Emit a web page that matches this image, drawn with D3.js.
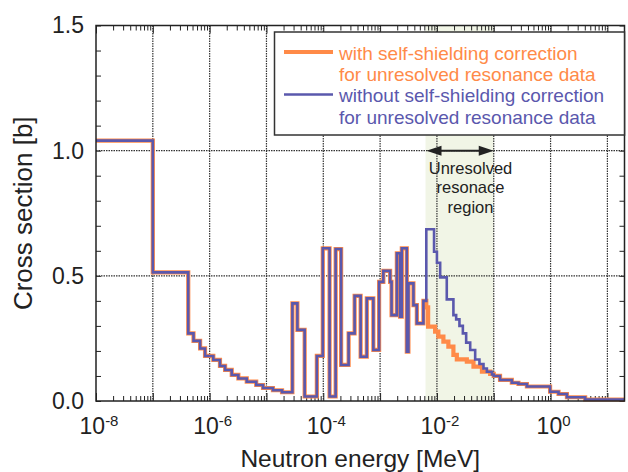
<!DOCTYPE html>
<html>
<head>
<meta charset="utf-8">
<script src="https://cdn.jsdelivr.net/npm/d3@7"></script>
<style>
  body { margin: 0; background: #fff; }
  svg { display: block; font-family: "Liberation Sans", Arial, Helvetica, sans-serif; }
</style>
</head>
<body>
<div id="chart"></div>
<script>
// Group boundaries [MeV] and cross sections [b], shared part below the unresolved region
const lowEdges = [1e-8, 1e-7, 4.2e-7, 5.2e-7, 6.8e-7, 8.3e-7, 1.16e-6, 1.52e-6, 1.87e-6, 2.45e-6,
  3.2e-6, 4.5e-6, 6.6e-6, 8.7e-6, 1.3e-5, 1.88e-5, 2.86e-5, 3.5e-5, 4.7e-5, 7.7e-5,
  9.8e-5, 1.29e-4, 1.65e-4, 2.06e-4, 2.79e-4, 3.56e-4, 4.54e-4, 5.83e-4, 7.6e-4, 9.6e-4,
  1.14e-3, 1.5e-3, 1.59e-3, 1.97e-3, 2.25e-3, 2.41e-3, 2.95e-3, 3.15e-3, 3.86e-3, 4.43e-3,
  5.78e-3, 6.5e-3];
const lowValues = [1.04, 0.514, 0.27, 0.24, 0.21, 0.18, 0.164, 0.14, 0.124, 0.104,
  0.09, 0.077, 0.064, 0.052, 0.043, 0.035, 0.39, 0.284, 0.018, 0.18,
  0.61, 0.018, 0.607, 0.144, 0.27, 0.42, 0.177, 0.41, 0.204, 0.476,
  0.52, 0.476, 0.343, 0.59, 0.337, 0.61, 0.197, 0.47, 0.383, 0.31, 0.40];

// Unresolved resonance region, without self-shielding (blue)
const urrBlueEdges = [6.5e-3, 8.9e-3, 1e-2, 1.14e-2, 1.49e-2, 1.95e-2, 2.18e-2, 2.49e-2, 2.86e-2,
  3.27e-2, 3.85e-2, 4.71e-2, 5.6e-2, 6.6e-2, 7.57e-2, 9.3e-2, 0.1];
const urrBlueValues = [0.686, 0.596, 0.552, 0.494, 0.406, 0.343, 0.326, 0.30, 0.27,
  0.233, 0.204, 0.166, 0.148, 0.13, 0.117, 0.106];

// Unresolved resonance region, with self-shielding (orange)
const urrOrangeEdges = [6.5e-3, 7.0e-3, 9.3e-3, 1.06e-2, 1.3e-2, 1.59e-2, 1.95e-2, 2.24e-2,
  3.36e-2, 4.4e-2, 6.2e-2, 8.65e-2, 0.1];
const urrOrangeValues = [0.374, 0.297, 0.277, 0.257, 0.237, 0.217, 0.184, 0.166,
  0.157, 0.137, 0.117, 0.108];

// Shared part above the unresolved region
const highEdges = [0.1, 0.129, 0.208, 0.272, 0.383, 0.98, 1.38, 1.94, 4.06, 20];
const highValues = [0.100, 0.084, 0.073, 0.068, 0.058, 0.037, 0.028, 0.015, 0.006];

const urrRange = [6.3e-3, 0.1];
const xLabelExps = [-8, -6, -4, -2, 0];
const yLabels = [0, 0.5, 1.0, 1.5];
const legendLabels = [
  ["with self-shielding correction", "for unresolved resonance data"],
  ["without self-shielding correction", "for unresolved resonance data"]
];
const noteLines = ["Unresolved", "resonace", "region"];

const orange = "#ff8a48";
const blue = "#5a58ad";

// turn edges + values into points for a step-after line
function steps(edges, values) {
  const pts = values.map((v, i) => ({ e: edges[i], v: v }));
  pts.push({ e: edges[edges.length - 1], v: values[values.length - 1] });
  return pts;
}

const orangeData = steps(
  lowEdges.concat(urrOrangeEdges.slice(1), highEdges.slice(1)),
  lowValues.concat(urrOrangeValues, highValues));
const blueData = steps(
  lowEdges.concat(urrBlueEdges.slice(1), highEdges.slice(1)),
  lowValues.concat(urrBlueValues, highValues));

const W = 628, H = 472;
const pLeft = 96, pRight = 624.5, pTop = 25.5, pBottom = 401;

const svg = d3.select("#chart").append("svg")
  .attr("width", W).attr("height", H);

const x = d3.scaleLog().domain([1e-8, 20]).range([pLeft, pRight]);
const y = d3.scaleLinear().domain([0, 1.5]).range([pBottom, pTop]);

// shaded unresolved region
svg.append("rect")
  .attr("x", x(urrRange[0])).attr("y", pTop)
  .attr("width", x(urrRange[1]) - x(urrRange[0]))
  .attr("height", pBottom - pTop)
  .attr("fill", "#f1f5e6");

// grid
const decades = d3.range(-7, 2).map(p => Math.pow(10, p));
svg.append("g").selectAll("line").data(decades).join("line")
  .attr("x1", d => x(d)).attr("x2", d => x(d))
  .attr("y1", pTop).attr("y2", pBottom)
  .attr("stroke", "#333").attr("stroke-width", 1.2).attr("stroke-dasharray", "1.5,1");
svg.append("g").selectAll("line").data([0.5, 1.0]).join("line")
  .attr("x1", pLeft).attr("x2", pRight)
  .attr("y1", d => y(d)).attr("y2", d => y(d))
  .attr("stroke", "#333").attr("stroke-width", 1.2).attr("stroke-dasharray", "1.5,1");

// ticks (inward, on all four sides)
const minorX = [];
for (let p = -8; p <= 1; p++) {
  for (let m = 2; m <= 9; m++) {
    const v = m * Math.pow(10, p);
    if (v < 20) minorX.push(v);
  }
}
const majorX = d3.range(-8, 2).map(p => Math.pow(10, p));
const minorY = d3.range(0, 16).map(i => i / 10);

function styleAxis(g) {
  g.select(".domain").remove();
  g.selectAll("line").attr("stroke", "#222").attr("stroke-width", 1);
}
svg.append("g").attr("transform", `translate(0,${pBottom})`)
  .call(d3.axisBottom(x).tickValues(minorX).tickSize(-5).tickFormat("")).call(styleAxis);
svg.append("g").attr("transform", `translate(0,${pBottom})`)
  .call(d3.axisBottom(x).tickValues(majorX).tickSize(-8).tickFormat("")).call(styleAxis);
svg.append("g").attr("transform", `translate(0,${pTop})`)
  .call(d3.axisTop(x).tickValues(minorX).tickSize(-5).tickFormat("")).call(styleAxis);
svg.append("g").attr("transform", `translate(0,${pTop})`)
  .call(d3.axisTop(x).tickValues(majorX).tickSize(-8).tickFormat("")).call(styleAxis);
svg.append("g").attr("transform", `translate(${pLeft},0)`)
  .call(d3.axisLeft(y).tickValues(minorY).tickSize(-5).tickFormat("")).call(styleAxis);
svg.append("g").attr("transform", `translate(${pRight},0)`)
  .call(d3.axisRight(y).tickValues(minorY).tickSize(-5).tickFormat("")).call(styleAxis);

// y tick labels
const yAxis = svg.append("g").attr("transform", `translate(${pLeft},0)`)
  .call(d3.axisLeft(y).tickValues(yLabels).tickSize(0).tickPadding(12).tickFormat(d3.format(".1f")));
yAxis.select(".domain").remove();
yAxis.selectAll("text")
  .attr("font-size", 23).attr("fill", "#222")
  .attr("font-family", "'Liberation Sans', Arial, sans-serif");

// x tick labels 10^n
const xl = svg.append("g").selectAll("text").data(xLabelExps).join("text")
  .attr("x", d => x(Math.pow(10, d)) + 3)
  .attr("y", 434)
  .attr("text-anchor", "middle")
  .attr("fill", "#222")
  .attr("font-size", 23);
xl.append("tspan").text("10");
xl.append("tspan").attr("font-size", 15).attr("dy", -8).text(d => String(d));

// data lines
const line = d3.line()
  .x(d => x(d.e))
  .y(d => y(d.v))
  .curve(d3.curveStepAfter);

svg.append("path").datum(orangeData)
  .attr("d", line).attr("fill", "none")
  .attr("stroke", orange).attr("stroke-width", 4.2);
svg.append("path").datum(blueData)
  .attr("d", line).attr("fill", "none")
  .attr("stroke", blue).attr("stroke-width", 2.6);

// frame
svg.append("rect")
  .attr("x", pLeft).attr("y", pTop)
  .attr("width", pRight - pLeft).attr("height", pBottom - pTop)
  .attr("fill", "none").attr("stroke", "#222").attr("stroke-width", 1.5);

// legend
const lg = svg.append("g");
lg.append("rect")
  .attr("x", 274.5).attr("y", 32).attr("width", 350).attr("height", 103)
  .attr("fill", "#fff").attr("stroke", "#333").attr("stroke-width", 1.5);
const legendColors = [orange, blue];
const legendWidths = [4, 2.6];
legendLabels.forEach((lines, i) => {
  const y0 = 52 + i * 42.5;
  lg.append("line")
    .attr("x1", 284).attr("x2", 333).attr("y1", y0).attr("y2", y0)
    .attr("stroke", legendColors[i]).attr("stroke-width", legendWidths[i]);
  lines.forEach((t, j) => {
    lg.append("text")
      .attr("x", 339).attr("y", y0 + 7.5 + j * 21.5)
      .attr("font-size", 19)
      .attr("fill", legendColors[i])
      .text(t);
  });
});

// unresolved region arrow and note
const ay = y(1.0);
const ax0 = x(urrRange[0]) + 1, ax1 = x(urrRange[1]);
svg.append("line")
  .attr("x1", ax0 + 10).attr("x2", ax1 - 10).attr("y1", ay).attr("y2", ay)
  .attr("stroke", "#222").attr("stroke-width", 2);
svg.append("path")
  .attr("d", `M${ax0},${ay} L${ax0 + 15},${ay - 5} L${ax0 + 15},${ay + 5} Z`)
  .attr("fill", "#222");
svg.append("path")
  .attr("d", `M${ax1},${ay} L${ax1 - 15},${ay - 5} L${ax1 - 15},${ay + 5} Z`)
  .attr("fill", "#222");
svg.append("g").selectAll("text").data(noteLines).join("text")
  .attr("x", x(urrRange[0]) + 45)
  .attr("y", (d, i) => 173.5 + i * 19.5)
  .attr("text-anchor", "middle")
  .attr("font-size", 16.5)
  .attr("fill", "#222")
  .text(d => d);

// axis titles
svg.append("text")
  .attr("x", (pLeft + pRight) / 2).attr("y", 466.5)
  .attr("text-anchor", "middle")
  .attr("font-size", 24.5).attr("fill", "#222")
  .text("Neutron energy [MeV]");
svg.append("text")
  .attr("transform", `translate(32,${(pTop + pBottom) / 2}) rotate(-90)`)
  .attr("text-anchor", "middle")
  .attr("font-size", 26).attr("fill", "#222")
  .text("Cross section [b]");
</script>
</body>
</html>
